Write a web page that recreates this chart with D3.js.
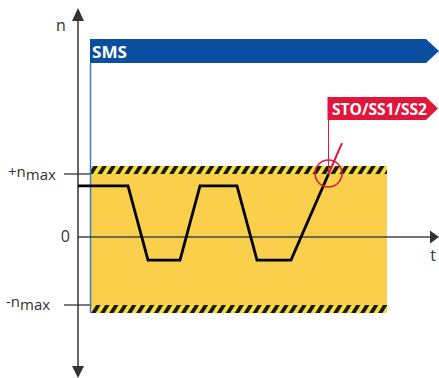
<!DOCTYPE html>
<html>
<head>
<meta charset="utf-8">
<script src="https://cdn.jsdelivr.net/npm/d3@7"></script>
<style>
  html, body { margin: 0; padding: 0; background: #fff; }
  svg { display: block; }
  text { font-family: "Open Sans", "Noto Sans", sans-serif; }
</style>
</head>
<body>
<svg id="chart" width="439" height="378"></svg>
<script>
// ---- data ----
const speedTimes   = [0, 50, 70, 102, 122, 159, 179, 213, 250.5];
const speedValues  = [0.81, 0.81, -0.34, -0.34, 0.81, 0.81, -0.34, -0.34, 1.0];
const overshootTimes  = [250.5, 264];
const overshootValues = [1.0, 1.49];
const yTickValues = [1, 0, -1];
const yTickNames  = ["+n", "0", "-n"];
const yTickSubs   = ["max", "", "max"];
const smsStart = 12;          // time when SMS becomes active
const bandStart = 12, bandEnd = 309;   // monitored speed window (time)
const stopEventTime = 250.5;  // STO/SS1/SS2 trigger time
const stopLabel = "STO/SS1/SS2";
const smsLabel = "SMS";

// ---- scales ----
const svg = d3.select("#chart");
const x = d3.scaleLinear().domain([0, 361]).range([78, 439]);
const y = d3.scaleLinear().domain([-1, 0, 1]).range([305, 237, 174]);

const axisCol = "#333333";
const yellow = "#f9cf4b";
const blue = "#0a4e9f";
const red = "#e1163c";

// hatch pattern
const defs = svg.append("defs");
const pat = defs.append("pattern").attr("id", "hatch")
  .attr("patternUnits", "userSpaceOnUse").attr("width", 7.6).attr("height", 10)
  .attr("patternTransform", "rotate(32)");
pat.append("rect").attr("width", 7.6).attr("height", 10).attr("fill", "#f7de3a");
pat.append("rect").attr("width", 3.8).attr("height", 10).attr("fill", "#1a1a1a");

// band
const hatchH = 8;
svg.append("rect")
  .attr("x", x(bandStart)).attr("y", y(1))
  .attr("width", x(bandEnd) - x(bandStart)).attr("height", y(-1) - y(1))
  .attr("fill", yellow);
svg.append("rect")
  .attr("x", x(bandStart)).attr("y", y(1) - hatchH)
  .attr("width", x(bandEnd) - x(bandStart)).attr("height", hatchH)
  .attr("fill", "url(#hatch)");
svg.append("rect")
  .attr("x", x(bandStart)).attr("y", y(-1))
  .attr("width", x(bandEnd) - x(bandStart)).attr("height", hatchH)
  .attr("fill", "url(#hatch)");

// SMS bar (arrow shaped)
const barTop = 39, barBot = 63, tipLen = 13;
const bx0 = x(smsStart), bx1 = x(361) - tipLen;
svg.append("path")
  .attr("d", `M${bx0},${barTop}H${bx1}L${bx1 + tipLen},${(barTop + barBot) / 2}L${bx1},${barBot}H${bx0}Z`)
  .attr("fill", blue);
svg.append("text").attr("x", bx0 + 2).attr("y", 57.5)
  .attr("fill", "#fff").attr("font-weight", "bold").attr("font-size", 16)
  .attr("textLength", 35).attr("lengthAdjust", "spacingAndGlyphs")
  .text(smsLabel);
svg.append("line")
  .attr("x1", x(smsStart) + 0.5).attr("x2", x(smsStart) + 0.5)
  .attr("y1", barBot).attr("y2", y(-1) + hatchH)
  .attr("stroke", "#3b7cc6").attr("stroke-width", 1.5);

// y ticks
yTickValues.forEach((v, i) => {
  if (v !== 0) {
    svg.append("line").attr("x1", 64).attr("x2", x(bandStart))
      .attr("y1", y(v)).attr("y2", y(v)).attr("stroke", axisCol).attr("stroke-width", 1.3);
  }
});
// labels
const lab = svg.append("g").attr("fill", "#333").attr("font-size", 15);
const t1 = lab.append("text").attr("x", 8).attr("y", 177);
t1.append("tspan").text(yTickNames[0]);
t1.append("tspan").attr("dy", 3).text(yTickSubs[0]);
lab.append("text").attr("x", 70).attr("y", 242).attr("text-anchor", "end")
  .attr("font-size", 16).text(yTickNames[1]);
const t3 = lab.append("text").attr("x", 6).attr("y", 307);
t3.append("tspan").text(yTickNames[2]);
t3.append("tspan").attr("dy", 3).text(yTickSubs[2]);

// horizontal axis (zero line)
svg.append("line").attr("x1", x(0)).attr("x2", 431)
  .attr("y1", y(0)).attr("y2", y(0)).attr("stroke", "#444").attr("stroke-width", 1.5);
svg.append("path").attr("d", `M430,${y(0) - 6.5}L439,${y(0)}L430,${y(0) + 6.5}Z`).attr("fill", axisCol);
svg.append("text").attr("x", 433).attr("y", 261).attr("text-anchor", "middle")
  .attr("font-size", 16).attr("fill", "#333").text("t");

// vertical axis
const ax = x(0);
svg.append("line").attr("x1", ax).attr("x2", ax).attr("y1", 18).attr("y2", 368)
  .attr("stroke", axisCol).attr("stroke-width", 1.5);
svg.append("path").attr("d", `M${ax - 6},21L${ax},8L${ax + 6},21Z`).attr("fill", axisCol);
svg.append("path").attr("d", `M${ax - 6},366L${ax},378L${ax + 6},366Z`).attr("fill", axisCol);
svg.append("text").attr("x", 61).attr("y", 31).attr("text-anchor", "middle")
  .attr("font-size", 16).attr("fill", "#333").text("n");

// speed line
const line = d3.line().x((d, i) => x(d[0])).y(d => y(d[1]));
svg.append("path")
  .datum(speedTimes.map((t, i) => [t, speedValues[i]]))
  .attr("d", line).attr("fill", "none").attr("stroke", "#000")
  .attr("stroke-width", 2.8).attr("stroke-linejoin", "miter");
svg.append("path")
  .datum(overshootTimes.map((t, i) => [t, overshootValues[i]]))
  .attr("d", line).attr("fill", "none").attr("stroke", red).attr("stroke-width", 2);

// trigger circle
svg.append("circle").attr("cx", x(stopEventTime)).attr("cy", y(1) - 0.5).attr("r", 13.5)
  .attr("fill", "none").attr("stroke", red).attr("stroke-width", 1.6);

// flag
const fx = x(stopEventTime), fTop = 97, fBot = 120;
svg.append("line").attr("x1", fx).attr("x2", fx).attr("y1", fBot).attr("y2", y(1) - 2)
  .attr("stroke", red).attr("stroke-width", 1);
svg.append("path")
  .attr("d", `M${fx - 1},${fTop}H426L438,${(fTop + fBot) / 2}L426,${fBot}H${fx - 1}Z`)
  .attr("fill", red);
svg.append("text").attr("x", fx + 3.5).attr("y", 114.5)
  .attr("fill", "#fff").attr("font-weight", "bold").attr("font-size", 16)
  .attr("textLength", 95).attr("lengthAdjust", "spacingAndGlyphs")
  .text(stopLabel);
</script>
</body>
</html>
